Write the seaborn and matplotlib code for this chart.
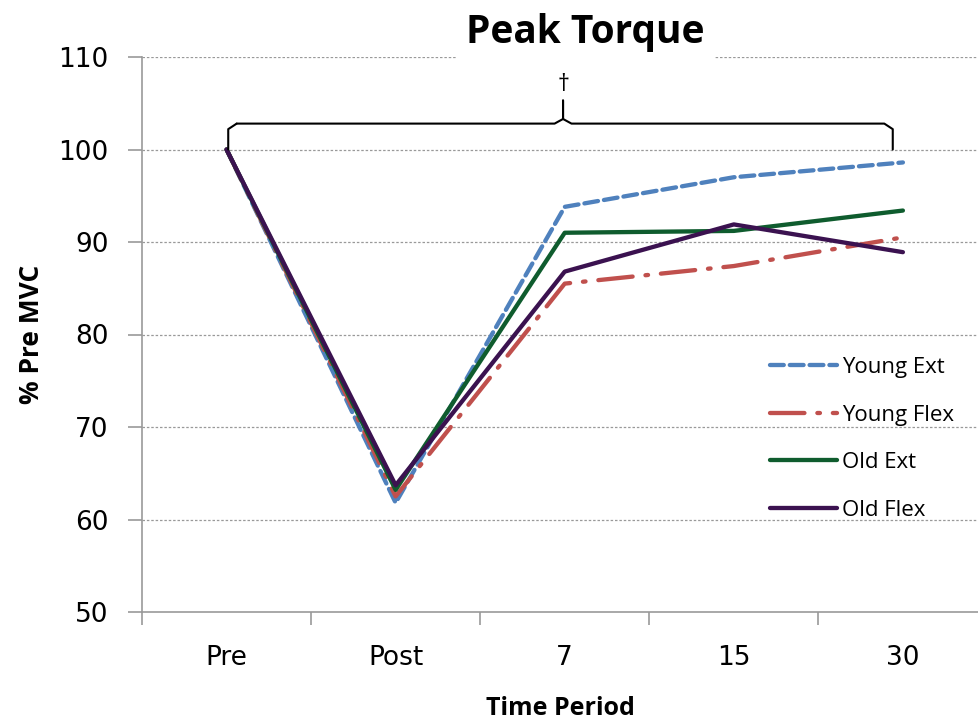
import matplotlib
matplotlib.use("Agg")
import matplotlib.pyplot as plt
import seaborn as sns
import pandas as pd
from matplotlib.ticker import FixedLocator
from matplotlib.lines import Line2D

periods = ["Pre", "Post", "7", "15", "30"]
young_ext = [100, 61.8, 93.8, 97.0, 98.6]
young_flex = [100, 62.5, 85.5, 87.4, 90.5]
old_ext = [100, 63.2, 91.0, 91.2, 93.4]
old_flex = [100, 63.7, 86.8, 91.9, 88.9]
series_names = ["Young Ext", "Young Flex", "Old Ext", "Old Flex"]
y_ticks = [50, 60, 70, 80, 90, 100, 110]

colors = {"Young Ext": "#4F81BD", "Young Flex": "#C0504D",
          "Old Ext": "#0F5C2E", "Old Flex": "#3B1250"}
dashes = {"Young Ext": (3.2, 1.4), "Young Flex": (8, 3, 0.6, 3),
          "Old Ext": "", "Old Flex": ""}

rows = []
for name, vals in zip(series_names, [young_ext, young_flex, old_ext, old_flex]):
    for p, v in zip(periods, vals):
        rows.append({"Period": p, "Value": v, "Series": name})
df = pd.DataFrame(rows)

sns.set_theme(style="white")
plt.rcParams["font.family"] = ["Open Sans", "DejaVu Sans"]
plt.rcParams["text.color"] = "black"
plt.rcParams["axes.labelcolor"] = "black"
plt.rcParams["xtick.labelcolor"] = "black"
plt.rcParams["ytick.labelcolor"] = "black"

fig = plt.figure(figsize=(9.79, 7.26), dpi=100)
ax = fig.add_axes([142/979, 1 - 612/726, 1 - 142/979, (612 - 57)/726])

sns.lineplot(data=df, x="Period", y="Value", hue="Series", style="Series",
             palette=colors, dashes=dashes, linewidth=3.1, ax=ax, sort=False,
             legend=False)
for line in ax.lines:
    line.set_dash_capstyle("round")
    line.set_solid_capstyle("round")

ax.set_xlim(-0.5, 4.45)
ax.set_ylim(50, 110)
ax.set_yticks(y_ticks)
ax.set_yticklabels([str(t) for t in y_ticks], fontsize=19, family="DejaVu Sans")
ax.set_xticks(range(len(periods)))
ax.set_xticklabels(periods, fontsize=19, family="DejaVu Sans")
ax.xaxis.set_minor_locator(FixedLocator([i - 0.5 for i in range(len(periods) + 1)]))
ax.tick_params(axis="x", which="major", length=0, pad=24)
ax.tick_params(axis="x", which="minor", length=9, width=1.2, color="#999999", direction="out", bottom=True)
ax.tick_params(axis="y", which="major", length=10, width=1.2, color="#999999", direction="out", left=True, pad=14)

for t in y_ticks[1:]:
    ax.axhline(t, color="#999999", linestyle=(0, (2, 1.5)), linewidth=0.9, zorder=0)

for s in ["top", "right"]:
    ax.spines[s].set_visible(False)
for s in ["left", "bottom"]:
    ax.spines[s].set_color("#999999")
    ax.spines[s].set_linewidth(1.2)

ax.set_xlabel("Time Period", fontsize=18, fontweight="bold", labelpad=18)
ax.set_ylabel("% Pre MVC", fontsize=19, fontweight="bold", labelpad=10)

# brace annotation
x0, x1, xm = 0.01, 3.94, 1.99
yb, yt, ytip = 100.0, 102.8, 105.3
r = 0.05
ax.plot([x0, x0, x0 + r], [yb, yt - 0.6, yt], color="black", lw=1.5)
ax.plot([x0 + r, xm - r, xm, xm], [yt, yt, yt + 0.5, ytip], color="black", lw=1.5)
ax.plot([xm, xm, xm + r, x1 - r, x1, x1], [ytip, yt + 0.5, yt, yt, yt - 0.6, yb], color="black", lw=1.5)
ax.text(xm, 105.7, "†", ha="center", va="bottom", fontsize=17, color="black")

# legend
handles = []
for name in series_names:
    d = dashes[name]
    ls = "-" if d == "" else (0, d)
    handles.append(Line2D([], [], color=colors[name], lw=3.1, linestyle=ls,
                          dash_capstyle="round"))
leg = ax.legend(handles, series_names, loc="upper left",
                bbox_to_anchor=(761/979, 1 - 348/726), bbox_transform=fig.transFigure,
                frameon=False, fontsize=16, handlelength=3.0, handletextpad=0.25,
                labelspacing=1.2, borderaxespad=0)

fig.text(585/979, 1 - 33/726, "Peak Torque", ha="center", va="center",
         fontsize=28, fontweight="bold", color="black",
         bbox=dict(facecolor="white", edgecolor="none", pad=7))

fig.savefig("out.png", dpi=100, facecolor="white")
